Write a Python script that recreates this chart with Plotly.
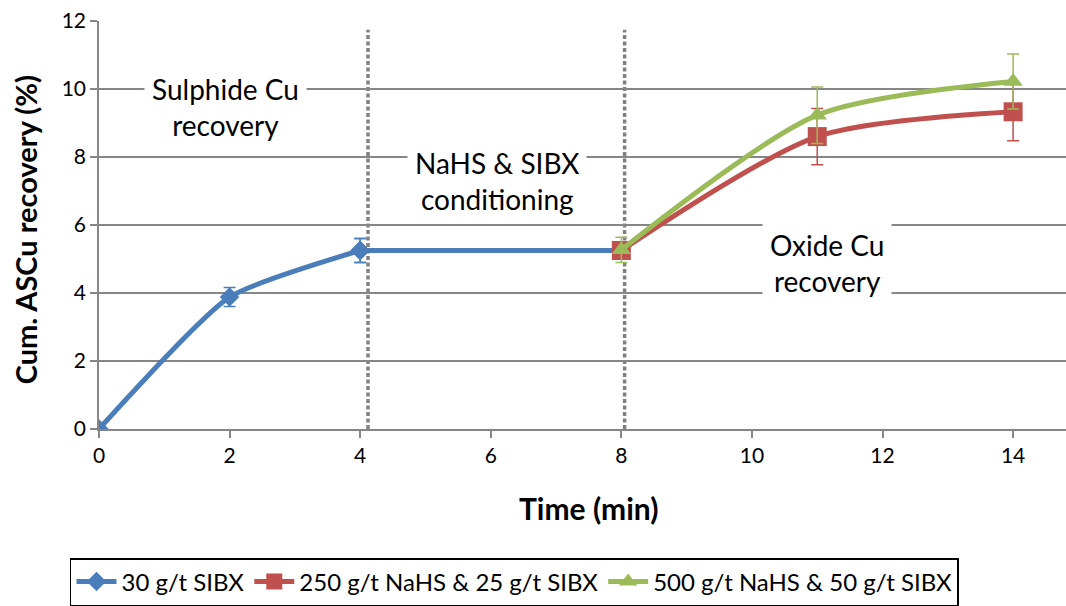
import plotly.graph_objects as go

# Flotation time (min) and cumulative acid-soluble Cu recovery (%)
time_sibx = [0, 2, 4, 8]
rec_sibx = [0, 3.88, 5.25, 5.25]
err_sibx = [0, 0.28, 0.35, 0]

time_nahs = [8, 11, 14]
rec_nahs250 = [5.25, 8.60, 9.33]
err_nahs250 = [0, 0.83, 0.85]
rec_nahs500 = [5.27, 9.23, 10.22]
err_nahs500 = [0.37, 0.83, 0.81]

series_names = ["30 g/t SIBX", "250 g/t NaHS & 25 g/t SIBX", "500 g/t NaHS & 50 g/t SIBX"]
colors = ["#4A7EBB", "#C0504D", "#9BBB59"]

# stage boundaries (dotted separators)
stage_bounds = [4.12, 8.05]
stage_labels = ["Sulphide Cu<br>recovery", "NaHS & SIBX<br>conditioning", "Oxide Cu<br>recovery"]
label_x = [1.93, 6.09, 11.15]
label_y = [9.47, 7.29, 4.88]

FONT = "Lato"

fig = go.Figure()

# 30 g/t SIBX: smoothed during flotation, flat during conditioning
fig.add_trace(go.Scatter(
    x=time_sibx[:3], y=rec_sibx[:3], name=series_names[0],
    mode="lines+markers", line=dict(color=colors[0], width=5, shape="spline", smoothing=0.55),
    marker=dict(symbol="diamond", size=15, color=colors[0]),
    error_y=dict(type="data", array=err_sibx[:3], color=colors[0], thickness=1.5, width=6),
))
fig.add_trace(go.Scatter(
    x=time_sibx[2:], y=rec_sibx[2:], name=series_names[0], showlegend=False,
    mode="lines+markers", line=dict(color=colors[0], width=5),
    marker=dict(symbol="diamond", size=15, color=colors[0]),
    error_y=dict(type="data", array=err_sibx[2:], color=colors[0], thickness=1.5, width=6),
))
fig.add_trace(go.Scatter(
    x=time_nahs, y=rec_nahs250, name=series_names[1],
    mode="lines+markers", line=dict(color=colors[1], width=5, shape="spline", smoothing=0.75),
    marker=dict(symbol="square", size=19, color=colors[1]),
    error_y=dict(type="data", array=err_nahs250, color=colors[1], thickness=1.5, width=6),
))
fig.add_trace(go.Scatter(
    x=time_nahs, y=rec_nahs500, name=series_names[2],
    mode="lines+markers", line=dict(color=colors[2], width=5, shape="spline", smoothing=0.75),
    marker=dict(symbol="triangle-up", size=17, color=colors[2]),
    error_y=dict(type="data", array=err_nahs500, color=colors[2], thickness=1.5, width=6),
))

for xb in stage_bounds:
    fig.add_shape(type="line", xref="x", yref="y", x0=xb, x1=xb, y0=0, y1=11.74,
                  line=dict(color="#808080", width=3.5, dash="4px,2.5px"), layer="below")

for txt, lx, ly in zip(stage_labels, label_x, label_y):
    fig.add_annotation(x=lx, y=ly, xref="x", yref="y", text=txt, showarrow=False,
                       font=dict(family=FONT, size=28, color="black"),
                       bgcolor="white", borderpad=7)

# axis titles
fig.add_annotation(x=0.5057, y=-0.194, xref="paper", yref="paper", text="<b>Time (min)</b>",
                   xanchor="center", yanchor="middle",
                   showarrow=False, font=dict(family=FONT, size=30, color="black"))
fig.add_annotation(x=-0.0765, y=0.487, xref="paper", yref="paper",
                   text="<b>Cum. ASCu recovery (%)</b>", textangle=-90,
                   xanchor="center", yanchor="middle",
                   showarrow=False, font=dict(family=FONT, size=29, color="black"))

fig.update_layout(
    width=1066, height=606,
    margin=dict(l=99, r=0, t=21, b=175.5),
    plot_bgcolor="white", paper_bgcolor="white",
    font=dict(family=FONT, size=21, color="black"),
    showlegend=True,
    legend=dict(orientation="h", x=-0.03, y=-0.316, xanchor="left", yanchor="top",
                bordercolor="black", borderwidth=1.5, font=dict(family=FONT, size=24),
                itemwidth=40, traceorder="normal"),
)

fig.update_xaxes(range=[0, 14.81], tickvals=[0, 2, 4, 6, 8, 10, 12, 14],
                 showgrid=False, showline=True, linecolor="#868686", linewidth=1.5,
                 ticks="outside", ticklen=7, tickcolor="#868686", tickwidth=1.5,
                 zeroline=False, tickfont=dict(size=21))
fig.update_yaxes(range=[0, 12], tickvals=[0, 2, 4, 6, 8, 10, 12],
                 showgrid=True, gridcolor="#868686", gridwidth=1.5,
                 showline=True, linecolor="#868686", linewidth=1.5,
                 ticks="outside", ticklen=7, tickcolor="#868686", tickwidth=1.5,
                 zeroline=False, tickfont=dict(size=21))

fig.write_html("out.html")
